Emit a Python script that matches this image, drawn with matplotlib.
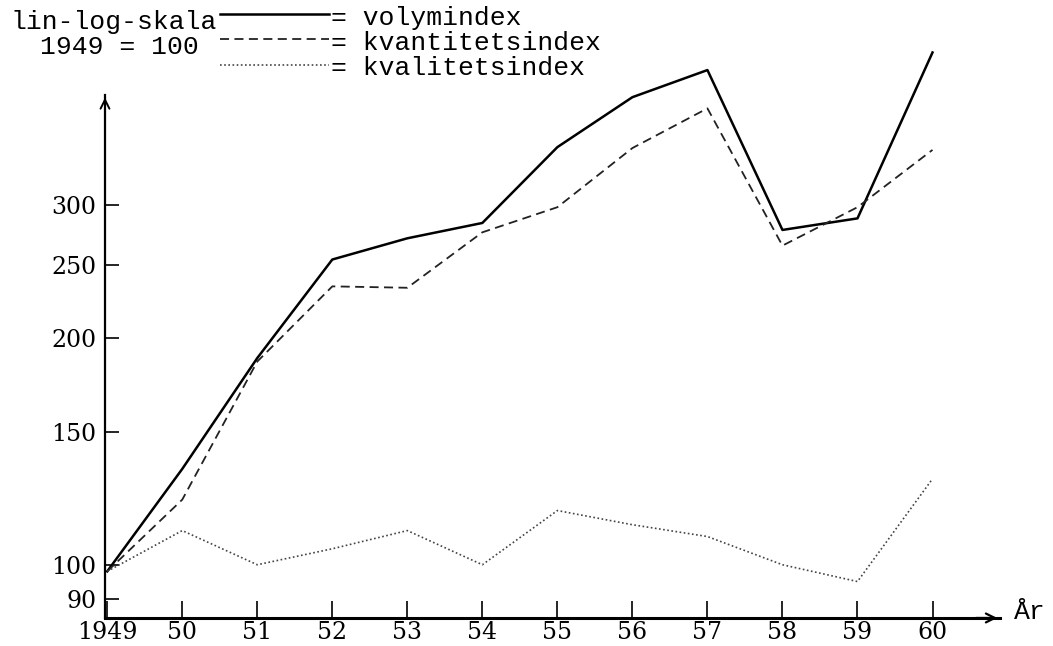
import matplotlib.pyplot as plt
from matplotlib.lines import Line2D
from matplotlib.ticker import FixedLocator, NullLocator

plt.rcParams['font.family'] = ['Liberation Mono', 'DejaVu Sans Mono']

years = [1949, 1950, 1951, 1952, 1953, 1954, 1955, 1956, 1957, 1958, 1959, 1960]
year_labels = ['1949', '50', '51', '52', '53', '54', '55', '56', '57', '58', '59', '60']
volymindex = [98, 134, 188, 254, 271, 284, 358, 417, 453, 278, 288, 478]
kvantitetsindex = [98, 122, 186, 234, 233, 276, 298, 357, 403, 265, 298, 355]
kvalitetsindex = [98, 111, 100, 105, 111, 100, 118, 113, 109, 100, 95, 130]
y_ticks = [90, 100, 150, 200, 250, 300]
series_names = ['= volymindex', '= kvantitetsindex', '= kvalitetsindex']

FS = 19          # typed text
TICK_FS = 17     # axis numbers
num_font = 'DejaVu Serif'
styles = [
    dict(color='black', lw=1.8, ls='-'),
    dict(color='#222222', lw=1.3, ls=(0, (5, 3))),
    dict(color='#444444', lw=1.2, ls=(0, (1, 1.5))),
]

fig = plt.figure(figsize=(10.53, 6.46), dpi=100)
ax = fig.add_axes([0.0997, 0.0434, 0.850, 0.9102])

for values, st in zip([volymindex, kvantitetsindex, kvalitetsindex], styles):
    ax.plot(years, values, clip_on=False, **st)

ax.set_yscale('log')
ax.set_ylim(85, 512)
ax.set_xlim(1948.97, 1960.9)

ax.yaxis.set_major_locator(FixedLocator(y_ticks))
ax.yaxis.set_minor_locator(NullLocator())
ax.set_yticklabels([str(v) for v in y_ticks], family=num_font, fontsize=TICK_FS)
ax.set_xticks(years)
ax.set_xticklabels(year_labels, family=num_font, fontsize=TICK_FS)
ax.tick_params(axis='both', direction='in', width=1.2, color='black')
ax.tick_params(axis='y', length=10, pad=6)
ax.tick_params(axis='x', length=12, pad=2)

for side in ['top', 'right']:
    ax.spines[side].set_visible(False)
ax.spines['left'].set_bounds(85, 420)
ax.spines['left'].set_linewidth(1.6)
ax.spines['bottom'].set_linewidth(2.2)

# arrow heads on the axes
ax.annotate('', xy=(0, 420), xycoords=('axes fraction', 'data'),
            xytext=(0, 395), textcoords=('axes fraction', 'data'),
            arrowprops=dict(arrowstyle='->', color='black', lw=1.4, mutation_scale=16))
ax.annotate('', xy=(1.0, 0), xycoords='axes fraction',
            xytext=(0.97, 0), textcoords='axes fraction',
            arrowprops=dict(arrowstyle='->', color='black', lw=1.6, mutation_scale=16))
ax.text(1.015, 0.01, 'År', transform=ax.transAxes, fontsize=FS, va='center', ha='left')

fig.text(0.010, 0.966, 'lin-log-skala', fontsize=FS, va='center', ha='left')
fig.text(0.038, 0.927, '1949 = 100', fontsize=FS, va='center', ha='left')

# key, typed next to the axis title
row_y = [0.972, 0.933, 0.894]
for name, st, y in zip(series_names, styles, row_y):
    fig.add_artist(Line2D([0.209, 0.312], [y + 0.006, y + 0.006], transform=fig.transFigure, **st))
    fig.text(0.314, y, name, fontsize=FS, va='center', ha='left')

fig.savefig('out.png', dpi=100)
